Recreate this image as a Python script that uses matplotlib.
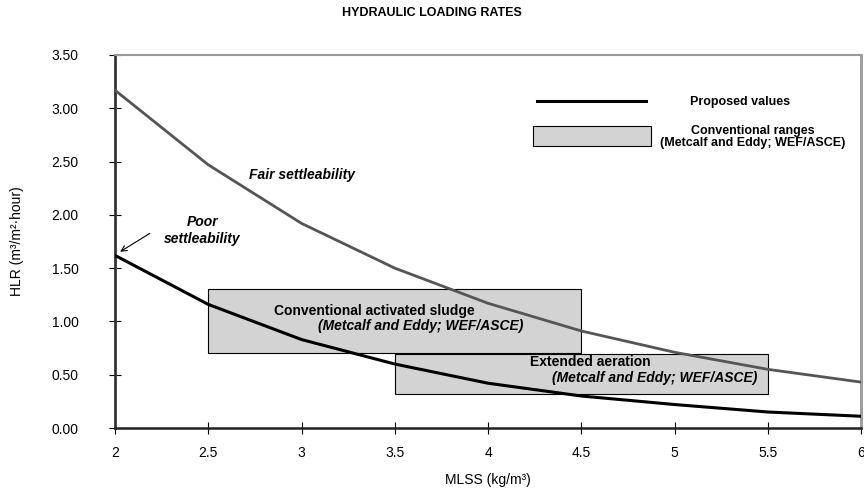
import matplotlib.pyplot as plt
import matplotlib.patches as mpatches

plt.rcParams['font.family'] = ['Liberation Sans', 'DejaVu Sans']

# Data
mlss = [2, 2.5, 3, 3.5, 4, 4.5, 5, 5.5, 6]
fair_hlr = [3.17, 2.47, 1.92, 1.50, 1.17, 0.91, 0.71, 0.55, 0.43]
proposed_hlr = [1.62, 1.16, 0.83, 0.60, 0.42, 0.30, 0.22, 0.15, 0.11]

# conventional ranges: (x0, x1, y0, y1)
cas_range = (2.5, 4.5, 0.70, 1.30)
ea_range = (3.5, 5.5, 0.32, 0.69)

x_ticks = [2, 2.5, 3, 3.5, 4, 4.5, 5, 5.5, 6]
x_ticklabels = ['2', '2.5', '3', '3.5', '4', '4.5', '5', '5.5', '6']
y_ticks = [0, 0.5, 1.0, 1.5, 2.0, 2.5, 3.0, 3.5]

box_fill = '#d3d3d3'
note_size = 10

fig = plt.figure(figsize=(8.64, 5), dpi=100)
ax = fig.add_axes([0.133, 0.144, 0.864, 0.746])

# Conventional range boxes
for x0, x1, y0, y1 in (cas_range, ea_range):
    ax.add_patch(mpatches.Rectangle((x0, y0), x1 - x0, y1 - y0,
                                    facecolor=box_fill, edgecolor='black',
                                    linewidth=0.8, zorder=1))

# Curves
ax.plot(mlss, fair_hlr, color='#555555', linewidth=2.0, zorder=3)
ax.plot(mlss, proposed_hlr, color='black', linewidth=2.2, zorder=4)

# Box labels
ax.text(3.39, 1.10, 'Conventional activated sludge', ha='center', va='center',
        fontsize=note_size, fontweight='bold', zorder=5)
ax.text(3.64, 0.96, '(Metcalf and Eddy; WEF/ASCE)', ha='center', va='center',
        fontsize=note_size, fontweight='bold', style='italic', zorder=5)
ax.text(4.55, 0.62, 'Extended aeration', ha='center', va='center',
        fontsize=note_size, fontweight='bold', zorder=5)
ax.text(4.89, 0.47, '(Metcalf and Eddy; WEF/ASCE)', ha='center', va='center',
        fontsize=note_size, fontweight='bold', style='italic', zorder=5)

# Curve annotations
ax.text(3.0, 2.37, 'Fair settleability', ha='center', va='center',
        fontsize=note_size, fontweight='bold', style='italic')
ax.text(2.47, 1.85, 'Poor\nsettleability', ha='center', va='center',
        fontsize=note_size, fontweight='bold', style='italic', linespacing=1.3)
ax.annotate('', xy=(2.015, 1.64), xytext=(2.20, 1.84),
            arrowprops=dict(arrowstyle='->', color='black', lw=0.8))

# Legend (manual layout)
ax.plot([0.566, 0.712], [0.877, 0.877], transform=ax.transAxes,
        color='black', linewidth=2.2)
ax.text(0.838, 0.874, 'Proposed values', transform=ax.transAxes,
        ha='center', va='center', fontsize=9, fontweight='bold')
ax.add_patch(mpatches.Rectangle((0.560, 0.757), 0.158, 0.053,
                                transform=ax.transAxes, facecolor=box_fill,
                                edgecolor='black', linewidth=0.8))
ax.text(0.854, 0.796, 'Conventional ranges', transform=ax.transAxes,
        ha='center', va='center', fontsize=9, fontweight='bold')
ax.text(0.854, 0.763, '(Metcalf and Eddy; WEF/ASCE)', transform=ax.transAxes,
        ha='center', va='center', fontsize=9, fontweight='bold')

# Axes styling
ax.set_xlim(2, 6)
ax.set_ylim(0, 3.5)
ax.set_xticks(x_ticks)
ax.set_xticklabels(x_ticklabels)
ax.set_yticks(y_ticks)
ax.set_yticklabels([f'{v:.2f}' for v in y_ticks])
ax.tick_params(axis='both', direction='inout', length=8, width=0.8,
               labelsize=10, colors='black')
ax.tick_params(axis='y', pad=22)
ax.tick_params(axis='x', pad=9)

ax.spines['left'].set_color('#333333')
ax.spines['left'].set_linewidth(2.0)
ax.spines['bottom'].set_color('#222222')
ax.spines['bottom'].set_linewidth(1.8)
ax.spines['top'].set_color('#999999')
ax.spines['top'].set_linewidth(1.5)
ax.spines['right'].set_color('#999999')
ax.spines['right'].set_linewidth(2.0)

ax.set_xlabel('MLSS (kg/m³)', fontsize=10, labelpad=9)
ax.set_ylabel('HLR (m³/m²·hour)', fontsize=10, labelpad=20)

fig.text(0.5, 0.985, 'HYDRAULIC LOADING RATES', ha='center', va='top',
         fontsize=9, fontweight='bold')

fig.savefig('out.png', dpi=100)
